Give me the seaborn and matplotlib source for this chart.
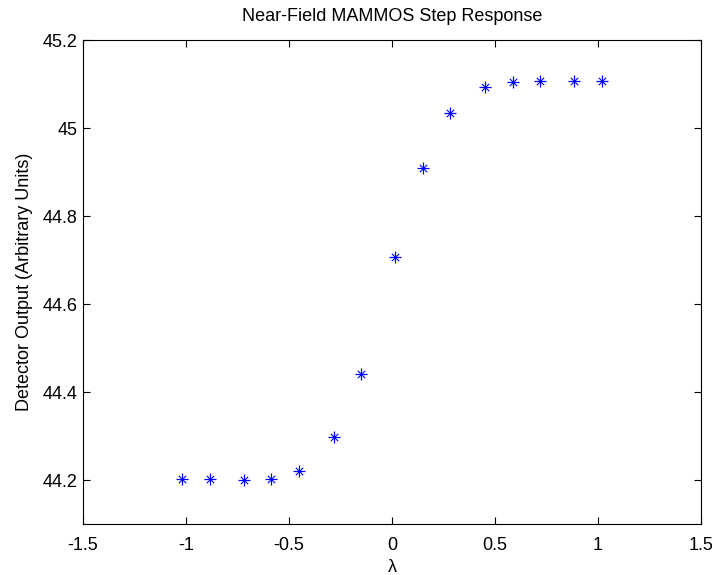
import matplotlib
matplotlib.use("Agg")
import matplotlib.pyplot as plt
import seaborn as sns
import pandas as pd

# Data
lam = [-1.02, -0.883, -0.717, -0.585, -0.453, -0.283, -0.150, 0.015,
       0.150, 0.283, 0.453, 0.585, 0.717, 0.883, 1.02]
output = [44.203, 44.203, 44.199, 44.203, 44.220, 44.298, 44.440, 44.707,
          44.908, 45.033, 45.094, 45.104, 45.107, 45.107, 45.107]
xticks = [-1.5, -1, -0.5, 0, 0.5, 1, 1.5]
xticklabels = ["-1.5", "-1", "-0.5", "0", "0.5", "1", "1.5"]
yticks = [44.2, 44.4, 44.6, 44.8, 45.0, 45.2]
yticklabels = ["44.2", "44.4", "44.6", "44.8", "45", "45.2"]

df = pd.DataFrame({"lam": lam, "out": output})

sns.set_style("ticks")
plt.rcParams["font.family"] = ["Liberation Sans", "DejaVu Sans"]
plt.rcParams["axes.unicode_minus"] = False
plt.rcParams["text.color"] = "black"
plt.rcParams["axes.labelcolor"] = "black"
plt.rcParams["xtick.color"] = "black"
plt.rcParams["ytick.color"] = "black"

FS = 13

fig = plt.figure(figsize=(7.12, 5.75), dpi=100)
ax = fig.add_axes([83 / 712, 1 - 524 / 575, (701 - 83) / 712, (524 - 40) / 575])

sns.scatterplot(data=df, x="lam", y="out", marker="+", s=80, color="#0000ff",
                linewidth=0.9, ax=ax, zorder=3)
sns.scatterplot(data=df, x="lam", y="out", marker="x", s=28, color="#0000ff",
                linewidth=0.8, ax=ax, zorder=3)

ax.set_xlim(-1.5, 1.5)
ax.set_ylim(44.1, 45.2)
ax.set_xticks(xticks)
ax.set_xticklabels(xticklabels)
ax.set_yticks(yticks)
ax.set_yticklabels(yticklabels)
ax.tick_params(direction="in", top=True, right=True, length=5, width=0.8,
               labelsize=FS, colors="black", labelcolor="black")
ax.tick_params(axis="x", pad=9)
ax.tick_params(axis="y", pad=4)
for s in ax.spines.values():
    s.set_visible(True)
    s.set_linewidth(0.8)
    s.set_color("black")

ax.set_title("Near-Field MAMMOS Step Response", fontsize=FS, pad=14, color="black")
ax.set_xlabel("λ", fontsize=FS, labelpad=4, color="black")
ax.set_ylabel("Detector Output (Arbitrary Units)", fontsize=FS, labelpad=7, color="black")

fig.savefig("out.png", dpi=100)
